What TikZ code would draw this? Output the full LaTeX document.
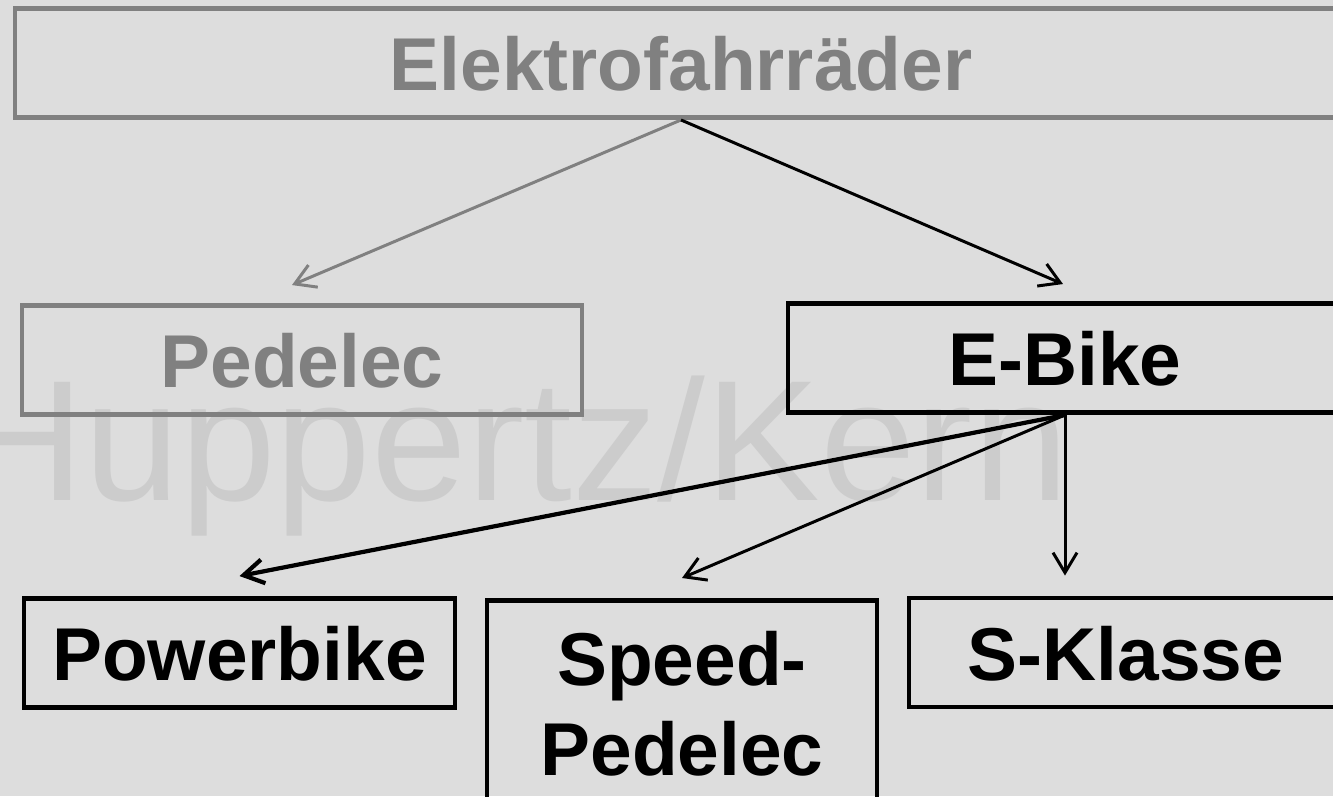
\documentclass[tikz,border=0pt]{standalone}
\usepackage{fontspec}
\usepackage{xcolor}
\usepackage{tikz}
\usetikzlibrary{
    positioning,
    arrows.meta,
    calc
}
\setmainfont{Liberation Sans}
\definecolor{slideGrey}{RGB}{221, 221, 221}
\definecolor{markGrey}{RGB}{204, 204, 204}
\definecolor{boxGrey}{RGB}{128, 128, 128}

\begin{document}
\begin{tikzpicture}[
            box/.style={draw, rectangle, line width=1.4pt, inner sep=0pt, align=center,
                font=\fontsize{21.3}{25.6}\selectfont\bfseries},
            oneline/.style={text height=0.55cm, text depth=0pt, minimum height=1.09cm},
            greybox/.style={draw=boxGrey, text=boxGrey},
            arr/.style={-{Straight Barb[length=2mm, width=2.4mm]}, line width=0.85pt}
        ]
            \fill[slideGrey] (0,0) rectangle (13.33,-7.96);
            \useasboundingbox (0,0) rectangle (13.33,-7.96);
            \node[anchor=base west, inner sep=0pt, text=markGrey, font=\fontsize{48.9}{58}\selectfont]
                (mark) at (-0.40,-5.00) {Huppertz/Kern};
            \node[box, oneline, greybox, minimum width=13.32cm] (elektro) at (6.81,-0.63) {Elektrofahrräder};
            \node[box, oneline, greybox, minimum width=5.60cm] (pedelec) at (3.02,-3.60) {Pedelec};
            \node[box, oneline, minimum width=5.54cm] (ebike) at (10.65,-3.58) {E-Bike};
            \node[box, oneline, minimum width=4.31cm] (power) at (2.395,-6.53) {Powerbike};
            \node[box, anchor=north, minimum width=3.90cm, minimum height=2.07cm] (speed) at (6.82,-5.98) {Speed-\\Pedelec};
            \node[box, oneline, minimum width=4.34cm] (sklasse) at (11.26,-6.525) {S-Klasse};
            \draw[arr, boxGrey] (elektro.south) -- ([xshift=-0.1cm, yshift=0.18cm]pedelec.north);
            \draw[arr] (elektro.south) -- ([xshift=-0.02cm, yshift=0.17cm]ebike.north);
            \draw[arr, line width=1.2pt] (ebike.south) -- ([yshift=0.2cm]power.north);
            \draw[arr] (ebike.south) -- ([yshift=0.2cm]speed.north);
            \draw[arr] (ebike.south) -- ($(ebike.south |- sklasse.north)+(0,0.2)$);
        \end{tikzpicture}
\end{document}
